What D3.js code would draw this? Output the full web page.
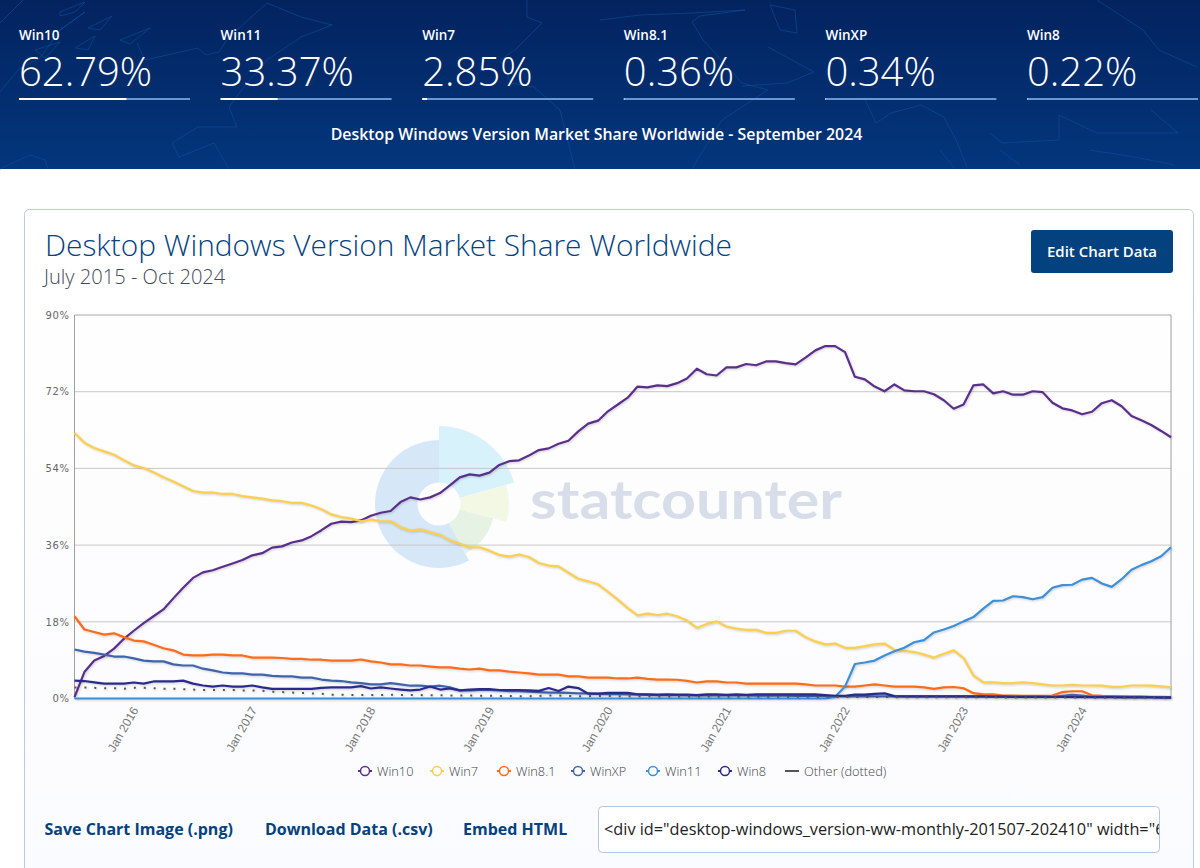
<!DOCTYPE html>
<html>
<head>
    <meta charset="utf-8">
    <title>Desktop Windows Version Market Share Worldwide</title>
    <style>
        html, body {
            margin: 0;
            padding: 0;
            background: #fff;
            overflow: hidden;
        }

        svg {
            display: block;
            font-family: "Open Sans", sans-serif;
        }

        .series {
            fill: none;
            stroke-linejoin: round;
            filter: drop-shadow(1px 1px 1px rgba(0, 0, 0, 0.18));
        }

        .y-axis path, .y-axis line, .x-axis path, .x-axis line {
            display: none;
        }

        .y-axis text {
            font-family: "DejaVu Sans", sans-serif;
            font-size: 10px;
            letter-spacing: 0.6px;
            fill: #666;
        }

        .x-axis text {
            font-size: 12px;
            font-weight: 300;
            fill: #777;
        }
    </style>
    <script src="https://d3js.org/d3.v7.min.js"></script>
</head>
<body>
<svg id="page" width="1200" height="868"></svg>
<script>
    // header numbers, September 2024
    const statNames = ["Win10", "Win11", "Win7", "Win8.1", "WinXP", "Win8"];
    const statValues = [62.79, 33.37, 2.85, 0.36, 0.34, 0.22];

    const yTicks = [0, 18, 36, 54, 72, 90];
    const xTickLabels = ["Jan 2016", "Jan 2017", "Jan 2018", "Jan 2019", "Jan 2020",
        "Jan 2021", "Jan 2022", "Jan 2023", "Jan 2024"];

    // monthly values, Jul 2015 - Oct 2024
    const win10 = [0.3, 6.2, 8.9, 10, 11.7, 14, 15.9, 17.7, 19.3, 20.9,
        23.5, 26, 28.3, 29.6, 30.1, 30.9, 31.7, 32.5, 33.6, 34.1,
        35.4, 35.7, 36.6, 37.1, 38.1, 39.5, 41, 41.5, 41.4, 41.8,
        42.9, 43.6, 44, 46.1, 47.2, 46.7, 47.2, 48.2, 50, 51.9,
        52.6, 52.3, 53, 54.8, 55.7, 55.9, 57, 58.3, 58.7, 59.8,
        60.5, 62.7, 64.5, 65.2, 67.4, 69, 70.6, 73.2, 73, 73.5,
        73.3, 74, 75.1, 77.4, 76.1, 75.8, 77.7, 77.7, 78.5, 78.2,
        79.1, 79.1, 78.7, 78.4, 80, 81.7, 82.7, 82.7, 81.3, 75.5,
        74.9, 73.2, 72.1, 73.7, 72.3, 72.1, 72.1, 71.4, 70, 68,
        69, 73.5, 73.7, 71.6, 72.1, 71.3, 71.3, 72.1, 71.9, 69.4,
        68.1, 67.6, 66.7, 67.3, 69.3, 70, 68.6, 66.3, 65.3, 64.2,
        62.79, 61.3];
    const win7 = [62.3, 60, 58.8, 58, 57.2, 55.9, 54.7, 54.1, 53.1, 51.9,
        50.9, 49.8, 48.7, 48.3, 48.3, 48, 48, 47.5, 47.2, 46.9,
        46.5, 46.3, 45.9, 45.9, 45.3, 44.4, 43.2, 42.6, 42.2, 41.6,
        42, 41.6, 41.6, 40.2, 39.4, 39.7, 39, 38.4, 37.1, 36.3,
        35.5, 35.5, 34.7, 33.7, 33.3, 33.8, 33.2, 31.8, 31.2, 31,
        29.5, 28.1, 27.5, 26.8, 25, 23.2, 21.2, 19.5, 19.9, 19.6,
        19.9, 19.3, 18.3, 16.6, 17.5, 18.1, 16.9, 16.4, 16.1, 16.1,
        15.4, 15.4, 15.9, 15.9, 14.4, 13.4, 12.7, 12.9, 11.9, 11.9,
        12.3, 12.7, 12.9, 11.4, 11.2, 10.9, 10.3, 9.6, 10.5, 11.3,
        9.5, 5.4, 3.8, 3.8, 3.6, 3.6, 3.8, 3.6, 3.3, 3.05,
        3.05, 3.2, 3.05, 3.05, 3, 2.75, 2.75, 3.05, 3.05, 3,
        2.85, 2.6];
    const win81 = [19.3, 16.2, 15.6, 15, 15.3, 14.4, 13.6, 13.4, 12.6, 11.8,
        11.3, 10.3, 10.1, 10.1, 10.3, 10.3, 10.1, 10.1, 9.6, 9.6,
        9.6, 9.5, 9.3, 9.3, 9.1, 9.1, 8.9, 8.9, 8.9, 9.15,
        8.7, 8.45, 8, 8, 7.75, 7.75, 7.5, 7.3, 7.3, 7,
        6.8, 7, 6.6, 6.6, 6.3, 6.1, 5.9, 5.6, 5.6, 5.6,
        5.2, 5.2, 4.9, 4.9, 4.9, 4.7, 4.7, 4.9, 4.6, 4.45,
        4.45, 4.4, 4.15, 3.75, 4, 4, 3.75, 3.75, 3.5, 3.5,
        3.5, 3.5, 3.5, 3.5, 3.3, 3.05, 3.05, 3.05, 2.8, 2.8,
        3.05, 3.3, 3.05, 2.8, 2.8, 2.8, 2.6, 2.25, 2.6, 2.7,
        2.4, 1.25, 0.95, 0.95, 0.7, 0.7, 0.6, 0.6, 0.6, 0.7,
        1.5, 1.7, 1.7, 0.75, 0.6, 0.55, 0.5, 0.45, 0.42, 0.4,
        0.36, 0.33];
    const winXP = [11.5, 11, 10.7, 10.3, 9.85, 9.85, 9.4, 8.9, 8.7, 8.7,
        8, 7.75, 7.75, 7, 6.6, 6.1, 5.9, 5.9, 5.6, 5.6,
        5.3, 5.2, 5.2, 4.9, 4.9, 4.45, 4.2, 4.1, 3.8, 3.6,
        3.3, 3.3, 3.6, 3.3, 3, 3, 2.8, 3, 2.6, 1.9,
        1.9, 2, 2, 1.9, 1.7, 1.7, 1.6, 1.5, 1.4, 1.4,
        1.3, 1.2, 1.2, 1.1, 1, 1, 0.95, 0.9, 0.85, 0.8,
        0.8, 0.8, 0.75, 0.8, 0.75, 0.75, 0.7, 0.7, 0.7, 0.65,
        0.65, 0.65, 0.65, 0.6, 0.6, 0.6, 0.55, 0.55, 0.5, 0.5,
        0.55, 0.5, 0.5, 0.5, 0.5, 0.5, 0.5, 0.5, 0.5, 0.5,
        0.5, 0.45, 0.45, 0.45, 0.45, 0.4, 0.4, 0.4, 0.4, 0.4,
        0.6, 0.85, 0.7, 0.4, 0.4, 0.38, 0.38, 0.36, 0.36, 0.35,
        0.34, 0.33];
    const win11 = [0, 0, 0, 0, 0, 0, 0, 0, 0, 0,
        0, 0, 0, 0, 0, 0, 0, 0, 0, 0,
        0, 0, 0, 0, 0, 0, 0, 0, 0, 0,
        0, 0, 0, 0, 0, 0, 0, 0, 0, 0,
        0, 0, 0, 0, 0, 0, 0, 0, 0, 0,
        0, 0, 0, 0, 0, 0, 0, 0, 0, 0,
        0, 0, 0, 0, 0, 0, 0, 0, 0, 0,
        0, 0, 0, 0, 0, 0, 0, 0.4, 2.8, 8.1,
        8.45, 8.9, 10.1, 11.1, 11.9, 13.2, 13.7, 15.5, 16.2, 17,
        18.1, 19.1, 21.1, 22.9, 23, 24, 23.8, 23.3, 23.8, 26,
        26.6, 26.7, 27.9, 28.3, 27, 26.2, 28, 30.2, 31.3, 32.2,
        33.37, 35.5];
    const win8 = [4.2, 4.1, 3.8, 3.5, 3.5, 3.5, 3.75, 3.5, 4, 4,
        4, 4.2, 3.5, 3.05, 2.8, 3.05, 2.8, 2.8, 3.05, 2.6,
        2.25, 2.25, 2.25, 2.25, 2.25, 2.5, 2.6, 2.6, 2.6, 2.9,
        2.35, 2.6, 2.35, 2.1, 1.9, 2.1, 2.8, 2.1, 2.35, 1.9,
        2.1, 2.2, 2.2, 2, 2, 2, 1.9, 1.8, 2.45, 1.75,
        2.8, 2.45, 1.15, 1.15, 1.3, 1.3, 1.3, 1, 0.95, 0.9,
        0.95, 0.9, 0.9, 0.8, 0.95, 0.95, 0.85, 0.95, 0.85, 0.95,
        0.95, 0.95, 0.95, 0.95, 0.95, 0.95, 0.8, 0.65, 0.6, 0.9,
        0.9, 1.1, 1.2, 0.55, 0.5, 0.5, 0.5, 0.5, 0.5, 0.5,
        0.5, 0.5, 0.5, 0.45, 0.45, 0.4, 0.4, 0.4, 0.4, 0.35,
        0.35, 0.3, 0.3, 0.3, 0.3, 0.3, 0.28, 0.28, 0.25, 0.25,
        0.22, 0.22];
    const other = [2.6, 2.6, 2.5, 2.4, 2.4, 2.3, 2.5, 2.5, 2.4, 2.3,
        2.3, 2.2, 2.1, 2, 2, 2, 2, 1.9, 1.9, 1.8,
        1.6, 1.5, 1.4, 1.3, 1.2, 1.1, 0.9, 0.9, 0.85, 0.85,
        0.8, 0.8, 0.9, 0.8, 0.8, 0.8, 0.75, 0.75, 0.7, 0.7,
        0.7, 0.65, 0.65, 0.6, 0.6, 0.55, 0.55, 0.6, 0.7, 0.7,
        0.6, 0.55, 0.55, 0.6, 0.6, 0.55, 0.55, 0.5, 0.5, 0.5,
        0.45, 0.45, 0.45, 0.45, 0.45, 0.45, 0.4, 0.4, 0.4, 0.4,
        0.4, 0.4, 0.4, 0.4, 0.4, 0.35, 0.35, 0.35, 0.35, 0.35,
        0.35, 0.35, 0.35, 0.3, 0.3, 0.3, 0.3, 0.3, 0.3, 0.3,
        0.3, 0.3, 0.3, 0.3, 0.25, 0.25, 0.25, 0.25, 0.25, 0.25,
        0.25, 0.25, 0.25, 0.2, 0.2, 0.2, 0.2, 0.2, 0.2, 0.2,
        0.2, 0.2];

    const formatMonth = d3.timeFormat("%b %Y");
    const months = d3.timeMonth.range(new Date(2015, 6, 1), new Date(2024, 10, 1)).map(formatMonth);

    // legend order is also the drawing order
    const seriesList = [
        {name: "Win10", values: win10, color: "#5b2e8c", legendX: 365},
        {name: "Win7", values: win7, color: "#fccf4d", legendX: 437},
        {name: "Win8.1", values: win81, color: "#ff6c17", legendX: 504},
        {name: "WinXP", values: winXP, color: "#3f63ad", legendX: 578},
        {name: "Win11", values: win11, color: "#3c8fd9", legendX: 653},
        {name: "Win8", values: win8, color: "#2b2a8c", legendX: 725},
        {name: "Other (dotted)", values: other, color: "#555555", legendX: 792}
    ];

    const svg = d3.select("#page");
    const defs = svg.append("defs");

    const headerGrad = defs.append("linearGradient")
        .attr("id", "headerGrad").attr("x1", 0).attr("y1", 0).attr("x2", 0).attr("y2", 1);
    headerGrad.append("stop").attr("offset", "0%").attr("stop-color", "#03235f");
    headerGrad.append("stop").attr("offset", "100%").attr("stop-color", "#03367c");

    const cardGrad = defs.append("linearGradient")
        .attr("id", "cardGrad").attr("x1", 0).attr("y1", 0).attr("x2", 0).attr("y2", 1);
    cardGrad.append("stop").attr("offset", "0%").attr("stop-color", "#ffffff");
    cardGrad.append("stop").attr("offset", "45%").attr("stop-color", "#fdfdfe");
    cardGrad.append("stop").attr("offset", "100%").attr("stop-color", "#fafbfe");

    // header band
    svg.append("rect").attr("width", 1200).attr("height", 169).attr("fill", "url(#headerGrad)");

    // rough world map outline behind the header
    const mapOutlines = [
        "M0 23L23 0",
        "M0 92L18 70L40 58L60 30L85 12L60 30M137 43L145 60L198 48L206 55L219 52L229 37L267 3L301 17L332 25L301 37L267 60L244 87L229 107L237 127L198 127L172 143L179 157L214 143L229 169",
        "M60 12L85 2L75 12L60 16ZM88 28L112 16L100 30ZM120 40L150 28L130 44ZM75 48L95 36L88 50ZM35 50L60 42L45 58Z",
        "M527 0L527 17L542 23L515 50L500 60L511 83L534 87L560 110L575 169",
        "M600 20L640 15L692 13L745 10L700 16L692 22L703 40L742 83L768 90L722 120L699 157L692 169",
        "M768 47L814 72L787 83L742 86M770 5L795 10L797 33L780 30Z",
        "M864 97L876 123L891 113L921 105L944 117L956 140L967 167",
        "M990 133L1002 143L1059 140L1059 115L1097 133L1155 133L1178 133L1151 110M1097 0L1143 30L1159 50L1197 67",
        "M940 150L955 169M1090 150L1140 158L1175 165M1000 150L1020 165",
        "M0 169L30 155L45 160L48 169"
    ];
    svg.append("g")
        .selectAll("path")
        .data(mapOutlines)
        .join("path")
        .attr("d", d => d)
        .attr("fill", "none")
        .attr("stroke", "#0d4f9c")
        .attr("stroke-width", 1)
        .attr("stroke-linejoin", "round")
        .attr("stroke-opacity", 0.6);

    // stats row
    const statX = d3.scalePoint().domain(statNames).range([19, 1027]);
    const shareWidth = d3.scaleLinear().domain([0, 100]).range([0, 171]);

    const stat = svg.append("g")
        .selectAll("g")
        .data(statNames)
        .join("g")
        .attr("transform", d => `translate(${statX(d)},0)`);

    stat.append("text")
        .text(d => d)
        .attr("y", 40)
        .attr("fill", "#fff")
        .attr("font-size", 13.5)
        .attr("font-weight", 600);

    stat.append("text")
        .text((d, i) => statValues[i].toFixed(2) + "%")
        .attr("y", 86)
        .attr("fill", "#fff")
        .attr("font-size", 40)
        .attr("font-weight", 300);

    stat.append("rect")
        .attr("y", 98)
        .attr("width", shareWidth(100))
        .attr("height", 2)
        .attr("fill", "#6a97d2");

    stat.append("rect")
        .attr("y", 98)
        .attr("width", (d, i) => shareWidth(statValues[i]))
        .attr("height", 2)
        .attr("fill", "#fff");

    svg.append("text")
        .text("Desktop Windows Version Market Share Worldwide - September 2024")
        .attr("x", 596.5)
        .attr("y", 139.5)
        .attr("text-anchor", "middle")
        .attr("fill", "#fff")
        .attr("font-size", 15.9)
        .attr("font-weight", 600);

    // card
    svg.append("rect")
        .attr("x", 24.5).attr("y", 209.5)
        .attr("width", 1169).attr("height", 680)
        .attr("rx", 5)
        .attr("fill", "url(#cardGrad)")
        .attr("stroke", "#bccbdf");

    svg.append("text")
        .text("Desktop Windows Version Market Share Worldwide")
        .attr("x", 45).attr("y", 256)
        .attr("fill", "#04437f")
        .attr("font-size", 29.85)
        .attr("font-weight", 300);

    svg.append("text")
        .text("July 2015 - Oct 2024")
        .attr("x", 44).attr("y", 284)
        .attr("fill", "#3f4a58")
        .attr("font-size", 20.1)
        .attr("font-weight", 300);

    svg.append("rect")
        .attr("x", 1031).attr("y", 230)
        .attr("width", 142).attr("height", 43)
        .attr("rx", 3)
        .attr("fill", "#04417f");

    svg.append("text")
        .text("Edit Chart Data")
        .attr("x", 1102).attr("y", 257)
        .attr("text-anchor", "middle")
        .attr("fill", "#fff")
        .attr("font-size", 15)
        .attr("font-weight", 600);

    // chart
    const x = d3.scalePoint().domain(months).range([74.5, 1171]);
    const y = d3.scaleLinear().domain([0, 90]).range([698.5, 315]);

    // watermark
    const logoPie = [
        {start: 152, end: 360, r: 64, fill: "#d6e7f7"},
        {start: 0, end: 74, r: 78, fill: "#d8f2fb"},
        {start: 74, end: 105, r: 70, fill: "#f3f8e4"},
        {start: 105, end: 152, r: 56, fill: "#e6f2e4"}
    ];
    const logoArc = d3.arc()
        .innerRadius(21.5)
        .outerRadius(d => d.r)
        .startAngle(d => d.start * Math.PI / 180)
        .endAngle(d => d.end * Math.PI / 180);

    svg.append("g")
        .attr("transform", "translate(439,504)")
        .selectAll("path")
        .data(logoPie)
        .join("path")
        .attr("d", logoArc)
        .attr("fill", d => d.fill);

    svg.append("text")
        .text("statcounter")
        .attr("x", 530).attr("y", 519)
        .attr("font-family", "Lato, sans-serif")
        .attr("font-weight", 700)
        .attr("font-size", 54)
        .attr("textLength", 312)
        .attr("lengthAdjust", "spacingAndGlyphs")
        .attr("fill", "#d8dee9");

    // grid lines and frame
    svg.append("g")
        .selectAll("line")
        .data(yTicks.slice(1))
        .join("line")
        .attr("x1", x.range()[0])
        .attr("x2", x.range()[1])
        .attr("y1", d => y(d))
        .attr("y2", d => y(d))
        .attr("stroke", d => d === 90 ? "#a8a8a8" : "#c8c8c8")
        .attr("stroke-width", 1);

    svg.selectAll(".frame")
        .data(x.range())
        .join("line")
        .attr("class", "frame")
        .attr("x1", d => d)
        .attr("x2", d => d)
        .attr("y1", y(90))
        .attr("y2", y(0))
        .attr("stroke", "#a0a0a0");

    svg.append("g")
        .attr("class", "y-axis")
        .attr("transform", `translate(${x.range()[0]},0)`)
        .call(d3.axisLeft(y).tickValues(yTicks).tickFormat(d => d + "%").tickSize(0).tickPadding(5));

    svg.append("g")
        .attr("class", "x-axis")
        .attr("transform", `translate(0,${y(0)})`)
        .call(d3.axisBottom(x).tickValues(xTickLabels).tickSize(0))
        .selectAll("text")
        .attr("text-anchor", "end")
        .attr("dx", 0)
        .attr("dy", 0)
        .attr("transform", "translate(2,10) rotate(-60)");

    const line = d3.line()
        .x((d, i) => x(months[i]))
        .y(d => y(d));

    svg.append("g")
        .selectAll("path")
        .data(seriesList)
        .join("path")
        .attr("class", "series")
        .attr("d", d => line(d.values))
        .attr("stroke", d => d.color)
        .attr("stroke-width", d => d.name === "Other (dotted)" ? 2 : 2.2)
        .attr("stroke-dasharray", d => d.name === "Other (dotted)" ? "2 7.9" : null);

    // legend
    const legend = svg.append("g")
        .selectAll("g")
        .data(seriesList)
        .join("g")
        .attr("transform", d => `translate(${d.legendX},771)`);

    legend.append("line")
        .attr("x1", -7)
        .attr("x2", 7)
        .attr("stroke", d => d.color)
        .attr("stroke-width", 2);

    legend.filter(d => d.name !== "Other (dotted)")
        .append("circle")
        .attr("r", 4.5)
        .attr("fill", "#fdfdfe")
        .attr("stroke", d => d.color)
        .attr("stroke-width", 1.5);

    legend.append("text")
        .text(d => d.name)
        .attr("x", 12)
        .attr("y", 4.5)
        .attr("fill", "#444")
        .attr("font-size", 12.8)
        .attr("font-weight", 300);

    // links under the chart
    const linkLabels = ["Save Chart Image (.png)", "Download Data (.csv)", "Embed HTML"];
    const linkX = [44.5, 265, 463];
    svg.append("g")
        .selectAll("text")
        .data(linkLabels)
        .join("text")
        .text(d => d)
        .attr("x", (d, i) => linkX[i])
        .attr("y", 835)
        .attr("fill", "#04417f")
        .attr("font-size", 16)
        .attr("font-weight", 700);

    // embed box, text is cut off by the clip
    defs.append("clipPath").attr("id", "embedClip")
        .append("rect").attr("x", 599).attr("y", 807).attr("width", 560).attr("height", 45);

    svg.append("rect")
        .attr("x", 598.5).attr("y", 806.5)
        .attr("width", 561).attr("height", 46)
        .attr("rx", 4)
        .attr("fill", "#fff")
        .attr("stroke", "#b3c6de");

    svg.append("text")
        .text('<div id="desktop-windows_version-ww-monthly-201507-202410" width="600"')
        .attr("x", 604).attr("y", 835)
        .attr("clip-path", "url(#embedClip)")
        .attr("fill", "#222")
        .attr("font-size", 16.3);
</script>
</body>
</html>
